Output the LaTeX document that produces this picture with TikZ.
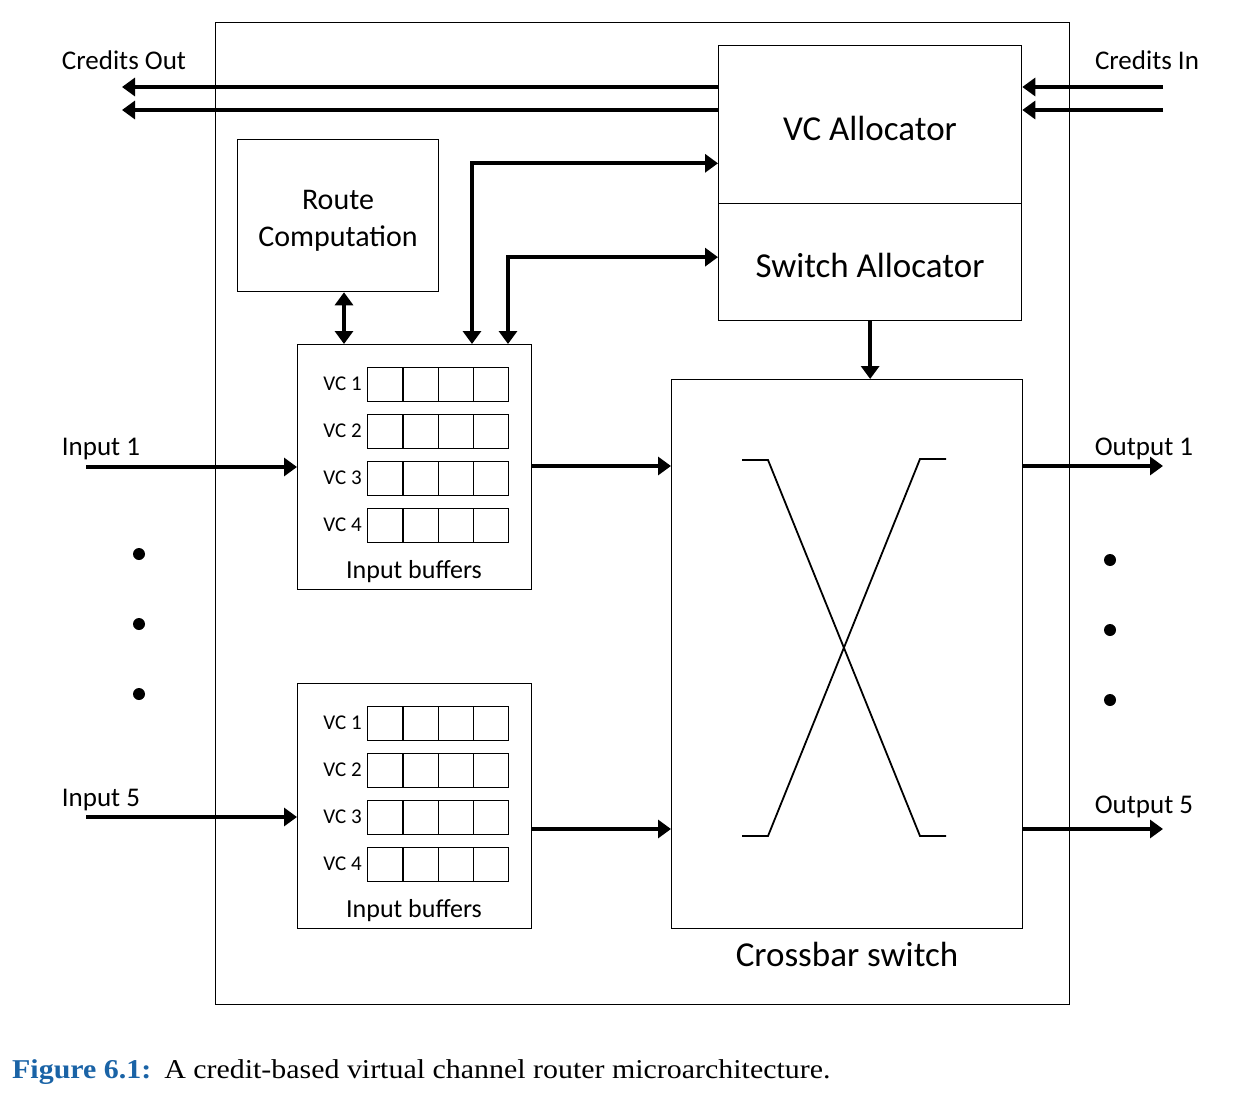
\documentclass[tikz,border=0pt]{standalone}
\usepackage{fontspec}
\setmainfont{Carlito}
\newfontfamily\capfont[FakeStretch=1.1]{Liberation Serif}
\usetikzlibrary{arrows.meta}
\definecolor{capblue}{RGB}{26,99,166}
\begin{document}
\begin{tikzpicture}[x=1pt,y=-1pt,
  box/.style={draw, line width=1.3pt, inner sep=0pt, anchor=north west},
  cell/.style={draw, line width=1.3pt, inner sep=0pt, anchor=north west, minimum width=35.25pt, minimum height=34pt},
  bus/.style={line width=3.8pt, -{Triangle[length=13pt,width=18pt]}},
  dbus/.style={line width=3.8pt, {Triangle[length=13pt,width=18pt]}-{Triangle[length=13pt,width=18pt]}},
  lbl/.style={font=\fontsize{27}{32}\selectfont, inner sep=0pt},
  big/.style={font=\fontsize{35}{40}\selectfont, inner sep=0pt},
  vcl/.style={font=\fontsize{21}{24}\selectfont, inner sep=0pt, anchor=east},
  xline/.style={line width=1.8pt},
  dot/.style={circle, fill=black, inner sep=0pt, minimum size=12pt}
]
\useasboundingbox (0,0) rectangle (1233,1099);

% frame
\node[box, minimum width=854pt, minimum height=982pt] (frame) at (215,22) {};

% allocators
\node[box, minimum width=303pt, minimum height=158pt] (vca) at (718,45) {};
\node[box, minimum width=303pt, minimum height=117pt] (swa) at (718,203) {};
\node[big] (vcat) at (870,128) {VC Allocator};
\node[big] (swat) at (870,265) {Switch Allocator};

% route computation
\node[box, minimum width=201pt, minimum height=152pt] (rc) at (237,139) {};
\node[font=\fontsize{30}{37}\selectfont, align=center, inner sep=0pt] (rct) at (338,221) {Route\\Computation};

% input buffers
\foreach \b/\y in {1/344, 5/683} {
  \node[box, minimum width=234pt, minimum height=245pt] (ib\b) at (297,\y) {};
  \foreach \r in {1,2,3,4} {
    \pgfmathsetmacro\ry{\y+23+(\r-1)*47}
    \node[vcl] (vl\b\r) at (362,\ry+17) {VC \r};
    \foreach \c in {1,2,3,4} {
      \pgfmathsetmacro\cx{367+(\c-1)*35.25}
      \node[cell] (c\b\r\c) at (\cx,\ry) {};
    }
  }
  \node[lbl, font=\fontsize{26}{30}\selectfont] (ibt\b) at (414,\y+228) {Input buffers};
}

% crossbar
\node[box, minimum width=351pt, minimum height=549pt] (xbar) at (671,379) {};
\node[big] (xbart) at (847,954) {Crossbar switch};
\draw[xline] (742,460) -- (768,460) -- (920,836) -- (946,836);
\draw[xline] (946,459) -- (920,459) -- (768,836) -- (742,836);

% credits
\coordinate (co1) at (122,87);
\coordinate (co2) at (122,110);
\coordinate (ci1) at (1163,87);
\coordinate (ci2) at (1163,110);
\draw[bus] (vca.west |- co1) -- (co1);
\draw[bus] (vca.west |- co2) -- (co2);
\draw[bus] (ci1) -- (vca.east |- ci1);
\draw[bus] (ci2) -- (vca.east |- ci2);
\node[lbl] (cot) at (124,60) {Credits Out};
\node[lbl] (cit) at (1147,60) {Credits In};

% control connections
\coordinate (b1a) at (472,344);
\coordinate (b1b) at (508,344);
\draw[dbus] (b1a) |- ([yshift=41pt]vca.south west);
\draw[dbus] (b1b) |- ([yshift=5pt]swa.west);
\draw[dbus] (rc.south -| 344,0) -- (ib1.north -| 344,0);
\draw[bus] (swa.south) -- (swa.south |- xbar.north);

% inputs
\coordinate (in1) at (86,467);
\coordinate (in5) at (86,817);
\draw[bus] (in1) -- (in1 -| ib1.west);
\draw[bus] (in5) -- (in5 -| ib5.west);
\node[lbl] (in1t) at (101,449) {Input 1};
\node[lbl] (in5t) at (101,800) {Input 5};

% buffers to crossbar
\coordinate (bx1) at (531,466);
\coordinate (bx5) at (531,829);
\draw[bus] (bx1) -- (bx1 -| xbar.west);
\draw[bus] (bx5) -- (bx5 -| xbar.west);

% outputs
\coordinate (out1) at (1163,466);
\coordinate (out5) at (1163,829);
\draw[bus] (out1 -| xbar.east) -- (out1);
\draw[bus] (out5 -| xbar.east) -- (out5);
\node[lbl] (o1t) at (1144,449) {Output 1};
\node[lbl] (o5t) at (1144,807) {Output 5};

% dots
\foreach \i/\y in {1/554,2/624,3/694} \node[dot] (ld\i) at (139,\y) {};
\foreach \i/\y in {1/560,2/630,3/700} \node[dot] (rd\i) at (1110,\y) {};

% caption
\node[anchor=base west, inner sep=0pt, font=\capfont\fontsize{27.2}{30}\selectfont] (cap) at (12,1078)
  {\textcolor{capblue}{\bfseries Figure 6.1:}\hspace{13pt}A credit-based virtual channel router microarchitecture.};
\end{tikzpicture}
\end{document}
